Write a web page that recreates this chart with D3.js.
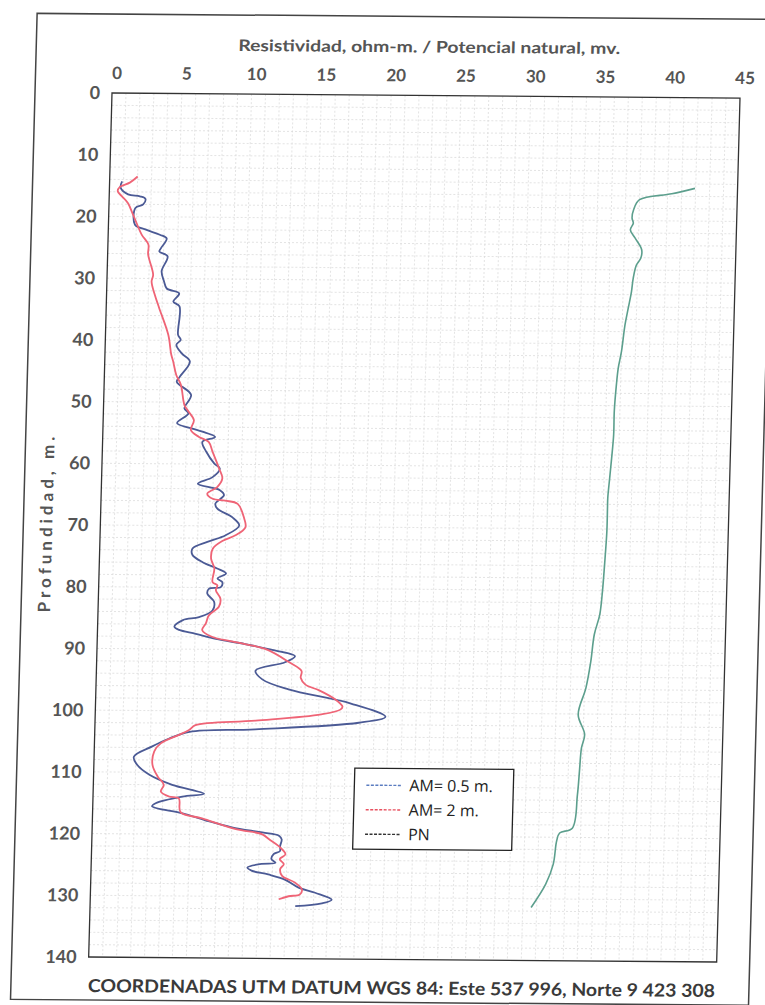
<!DOCTYPE html>
<html>
<head>
<meta charset="utf-8">
<script src="https://cdn.jsdelivr.net/npm/d3@7"></script>
<style>
  body { margin: 0; background: #fff; }
  svg { display: block; }
</style>
</head>
<body>
<div class="chart"></div>
<script>
// depth (m), value
const am05 = [
  [14.3,0.9],[15.3,0.8],[16.4,1.35],[16.7,2.2],[17.1,2.6],[18.0,2.45],[18.6,1.9],[21.3,1.9],
  [22.1,2.7],[22.9,3.7],[23.5,4.2],[25.1,3.8],[25.6,3.7],[26.4,4.3],[28.8,3.9],[30.5,4.1],
  [31.6,4.3],[32.4,5.2],[33.7,4.8],[34.5,5.25],[39.1,5.2],[39.9,5.4],[40.7,5.1],[42.1,5.5],
  [43.4,6.1],[45.9,5.4],[46.7,5.2],[48.8,6.25],[51.0,5.8],[51.8,6.1],[53.4,5.3],[54.2,6.3],
  [55.6,8.05],[56.4,7.15],[58.0,7.45],[59.9,8.05],[60.7,8.45],[62.1,7.95],[63.2,6.9],[64.2,8.5],
  [65.0,8.8],[66.4,8.2],[67.2,8.35],[68.6,9.45],[69.9,9.95],[71.5,9.0],[72.6,7.7],[73.7,6.65],
  [74.7,6.65],[75.9,7.4],[76.9,8.45],[77.7,9.1],[78.5,8.5],[79.1,8.85],[79.9,8.75],[80.2,7.9],
  [81.0,7.8],[82.3,8.3],[83.7,8.2],[84.8,7.25],[85.3,6.1],[86.4,5.5],[86.9,5.85],[87.5,7.05],
  [88.3,8.5],[89.1,10.6],[89.9,12.3],[91.0,14.2],[92.0,13.5],[93.4,11.4],[94.8,11.9],[96.4,13.8],
  [98.6,18.3],[100.7,20.8],[101.7,18.9],[102.9,11.5],[103.4,6.8],[104.5,5.35],[105.8,4.15],
  [107.5,2.85],[108.8,3.1],[110.4,4.0],[112.0,5.65],[113.4,7.95],[113.9,6.4],[115.0,4.5],
  [115.5,4.25],[116.6,6.45],[117.7,8.1],[118.8,10.0],[119.6,12.2],[120.1,13.4],[120.7,13.6],
  [121.8,13.5],[122.6,13.5],[123.1,13.05],[123.9,12.9],[124.5,13.2],[124.7,12.2],[125.3,11.2],
  [125.8,11.5],[126.4,12.7],[127.2,13.9],[128.5,14.9],[129.3,16.1],[130.4,17.3],[131.0,16.6],
  [131.5,14.7]
];
const am2 = [
  [13.5,2.0],[14.5,1.45],[15.2,0.75],[15.9,0.6],[16.7,0.9],[17.8,1.35],[19.7,1.75],[22.9,2.4],
  [24.5,2.9],[26.1,2.9],[29.4,3.3],[30.5,3.2],[32.6,3.45],[34.8,3.8],[39.1,4.5],[42.3,4.75],
  [43.4,4.9],[45.6,5.15],[47.2,5.5],[50.5,5.8],[51.5,6.1],[52.9,6.5],[54.5,6.3],[55.6,6.9],
  [56.4,7.6],[58.0,7.9],[60.7,8.4],[62.3,8.65],[63.7,8.3],[64.8,7.6],[65.6,8.0],[65.9,8.9],
  [66.4,9.8],[68.8,10.3],[70.2,10.4],[71.5,9.7],[72.4,8.8],[73.7,8.1],[75.3,8.0],[76.9,8.25],
  [79.1,8.15],[79.6,8.5],[80.4,8.4],[81.8,8.75],[83.1,8.65],[84.5,7.95],[85.8,7.75],[86.9,7.5],
  [88.0,8.25],[88.8,9.9],[89.9,12.1],[92.0,13.8],[93.4,14.7],[94.5,14.65],[95.6,15.0],[96.5,16.0],
  [98.0,17.2],[99.1,17.7],[99.6,17.55],[100.4,16.2],[101.5,11.5],[102.3,7.2],[103.1,6.75],
  [103.9,6.05],[105.3,4.75],[106.6,4.3],[108.8,4.2],[110.7,4.6],[112.0,5.05],[113.1,4.85],
  [113.9,5.45],[114.2,6.15],[116.4,6.3],[117.4,7.85],[119.1,10.3],[119.9,12.2],[120.7,12.7],
  [121.8,13.4],[123.1,13.9],[123.9,13.5],[124.7,13.8],[125.5,13.55],[126.6,13.7],[127.7,14.65],
  [128.8,15.15],[129.6,15.0],[129.9,14.2],[130.4,13.5]
];
const pn = [
  [14.7,41.95],[15.6,40.3],[16.6,38.0],[18.2,37.6],[19.6,37.5],[20.4,37.6],[21.5,37.4],[22.8,37.75],
  [24.7,38.25],[26.1,38.2],[27.2,37.9],[29.3,37.7],[31.5,37.6],[34.2,37.4],[36.9,37.2],[41.2,37.0],
  [43.9,36.8],[46.6,36.7],[50.9,36.6],[54.7,36.6],[58.5,36.5],[61.7,36.4],[65.0,36.3],[66.6,36.3],
  [70.4,36.3],[75.8,36.2],[80.1,36.1],[83.9,35.95],[87.1,35.6],[91.5,35.4],[95.8,35.1],[100.1,34.6],
  [103.3,35.1],[105.5,34.9],[109.3,34.8],[113.1,34.7],[118.5,34.4],[119.3,33.5],[120.6,33.3],
  [124.4,33.1],[127.6,32.6],[131.4,31.6]
];

const xTicks = [0, 5, 10, 15, 20, 25, 30, 35, 40, 45];
const yTicks = [0, 10, 20, 30, 40, 50, 60, 70, 80, 90, 100, 110, 120, 130, 140];
const seriesNames = ["AM= 0.5 m.", "AM= 2 m.", "PN"];
const seriesColors = ["#4b5a95", "#ef6476", "#5c9f8d"];
const legendColors = ["#5a7cc0", "#e8505f", "#333333"];

const W = 765, H = 1005;
const pLeft = 112, pRight = 740, pTop = 93, pBottom = 957;

const svg = d3.select(".chart").append("svg")
  .attr("width", W)
  .attr("height", H);

// the scanned sheet is slightly skewed
const g = svg.append("g")
  .attr("transform", "matrix(1,0.008,-0.027,1,2.51,-0.9)");

// outer page frame
g.append("rect")
  .attr("x", 35).attr("y", 14)
  .attr("width", 738).attr("height", 986)
  .attr("fill", "none")
  .attr("stroke", "#444")
  .attr("stroke-width", 1.5);

const x = d3.scaleLinear().domain([0, 45]).range([pLeft, pRight]);
const y = d3.scaleLinear().domain([0, 140]).range([pTop, pBottom]);

// graph paper grid
const grid = g.append("g")
  .attr("stroke", "#c9c9c9")
  .attr("stroke-width", 0.7)
  .attr("stroke-dasharray", "2,2")
  .attr("opacity", 0.7);
grid.selectAll(".gx")
  .data(d3.range(1, 45))
  .join("line")
  .attr("x1", d => x(d)).attr("x2", d => x(d))
  .attr("y1", pTop).attr("y2", pBottom);
grid.selectAll(".gy")
  .data(d3.range(2, 140, 2))
  .join("line")
  .attr("x1", pLeft).attr("x2", pRight)
  .attr("y1", d => y(d)).attr("y2", d => y(d));

g.append("rect")
  .attr("x", pLeft).attr("y", pTop)
  .attr("width", pRight - pLeft).attr("height", pBottom - pTop)
  .attr("fill", "none")
  .attr("stroke", "#333")
  .attr("stroke-width", 1.3);

// axes
const xAxis = g.append("g")
  .attr("transform", "translate(0," + pTop + ")")
  .call(d3.axisTop(x).tickValues(xTicks).tickSize(0).tickPadding(14));
xAxis.select(".domain").remove();
xAxis.selectAll("text")
  .attr("dx", 4)
  .attr("font-family", "Lato, sans-serif")
  .attr("font-size", 17)
  .attr("font-weight", "bold")
  .attr("fill", "#555");

const yAxis = g.append("g")
  .attr("transform", "translate(" + pLeft + ",0)")
  .call(d3.axisLeft(y).tickValues(yTicks).tickSize(0).tickPadding(12));
yAxis.select(".domain").remove();
yAxis.selectAll("text")
  .attr("font-family", "Lato, sans-serif")
  .attr("font-size", 18)
  .attr("font-weight", "bold")
  .attr("fill", "#555");

// titles
g.append("text")
  .attr("x", 428).attr("y", 50)
  .attr("text-anchor", "middle")
  .attr("font-family", "Lato, sans-serif")
  .attr("font-size", 16)
  .attr("font-weight", "bold")
  .attr("fill", "#555")
  .attr("textLength", 382)
  .attr("lengthAdjust", "spacingAndGlyphs")
  .text("Resistividad, ohm-m. / Potencial natural, mv.");

g.append("text")
  .attr("transform", "translate(64,523) rotate(-90)")
  .attr("text-anchor", "middle")
  .attr("font-family", "Lato, sans-serif")
  .attr("font-size", 17)
  .attr("font-weight", "bold")
  .attr("fill", "#555")
  .attr("letter-spacing", 4)
  .text("Profundidad, m.");

g.append("text")
  .attr("x", 425.5).attr("y", 992)
  .attr("text-anchor", "middle")
  .attr("font-family", "Lato, sans-serif")
  .attr("font-size", 18)
  .attr("font-weight", "bold")
  .attr("fill", "#3a3a3a")
  .attr("textLength", 627)
  .attr("lengthAdjust", "spacingAndGlyphs")
  .text("COORDENADAS UTM DATUM WGS 84: Este 537 996, Norte 9 423 308");

// curves
const line = d3.line()
  .x(d => x(d[1]))
  .y(d => y(d[0]))
  .curve(d3.curveCatmullRom.alpha(0.5));

[am05, am2, pn].forEach((s, i) => {
  g.append("path")
    .datum(s)
    .attr("d", line)
    .attr("fill", "none")
    .attr("stroke", seriesColors[i])
    .attr("stroke-width", i == 2 ? 1.6 : 1.8)
    .attr("stroke-linejoin", "round");
});

// legend
const lg = g.append("g").attr("transform", "translate(373,766)");
lg.append("rect")
  .attr("width", 159).attr("height", 81)
  .attr("fill", "#fff")
  .attr("stroke", "#222")
  .attr("stroke-width", 1.3);
seriesNames.forEach((n, i) => {
  const yy = 17 + i * 24.5;
  lg.append("line")
    .attr("x1", 12).attr("x2", 48)
    .attr("y1", yy).attr("y2", yy)
    .attr("stroke", legendColors[i])
    .attr("stroke-width", 1.4)
    .attr("stroke-dasharray", "3,1.5");
  lg.append("text")
    .attr("x", 55).attr("y", yy)
    .attr("dy", "0.36em")
    .attr("font-family", "Open Sans, sans-serif")
    .attr("font-size", 16)
    .attr("fill", "#222")
    .text(n);
});
</script>
</body>
</html>
